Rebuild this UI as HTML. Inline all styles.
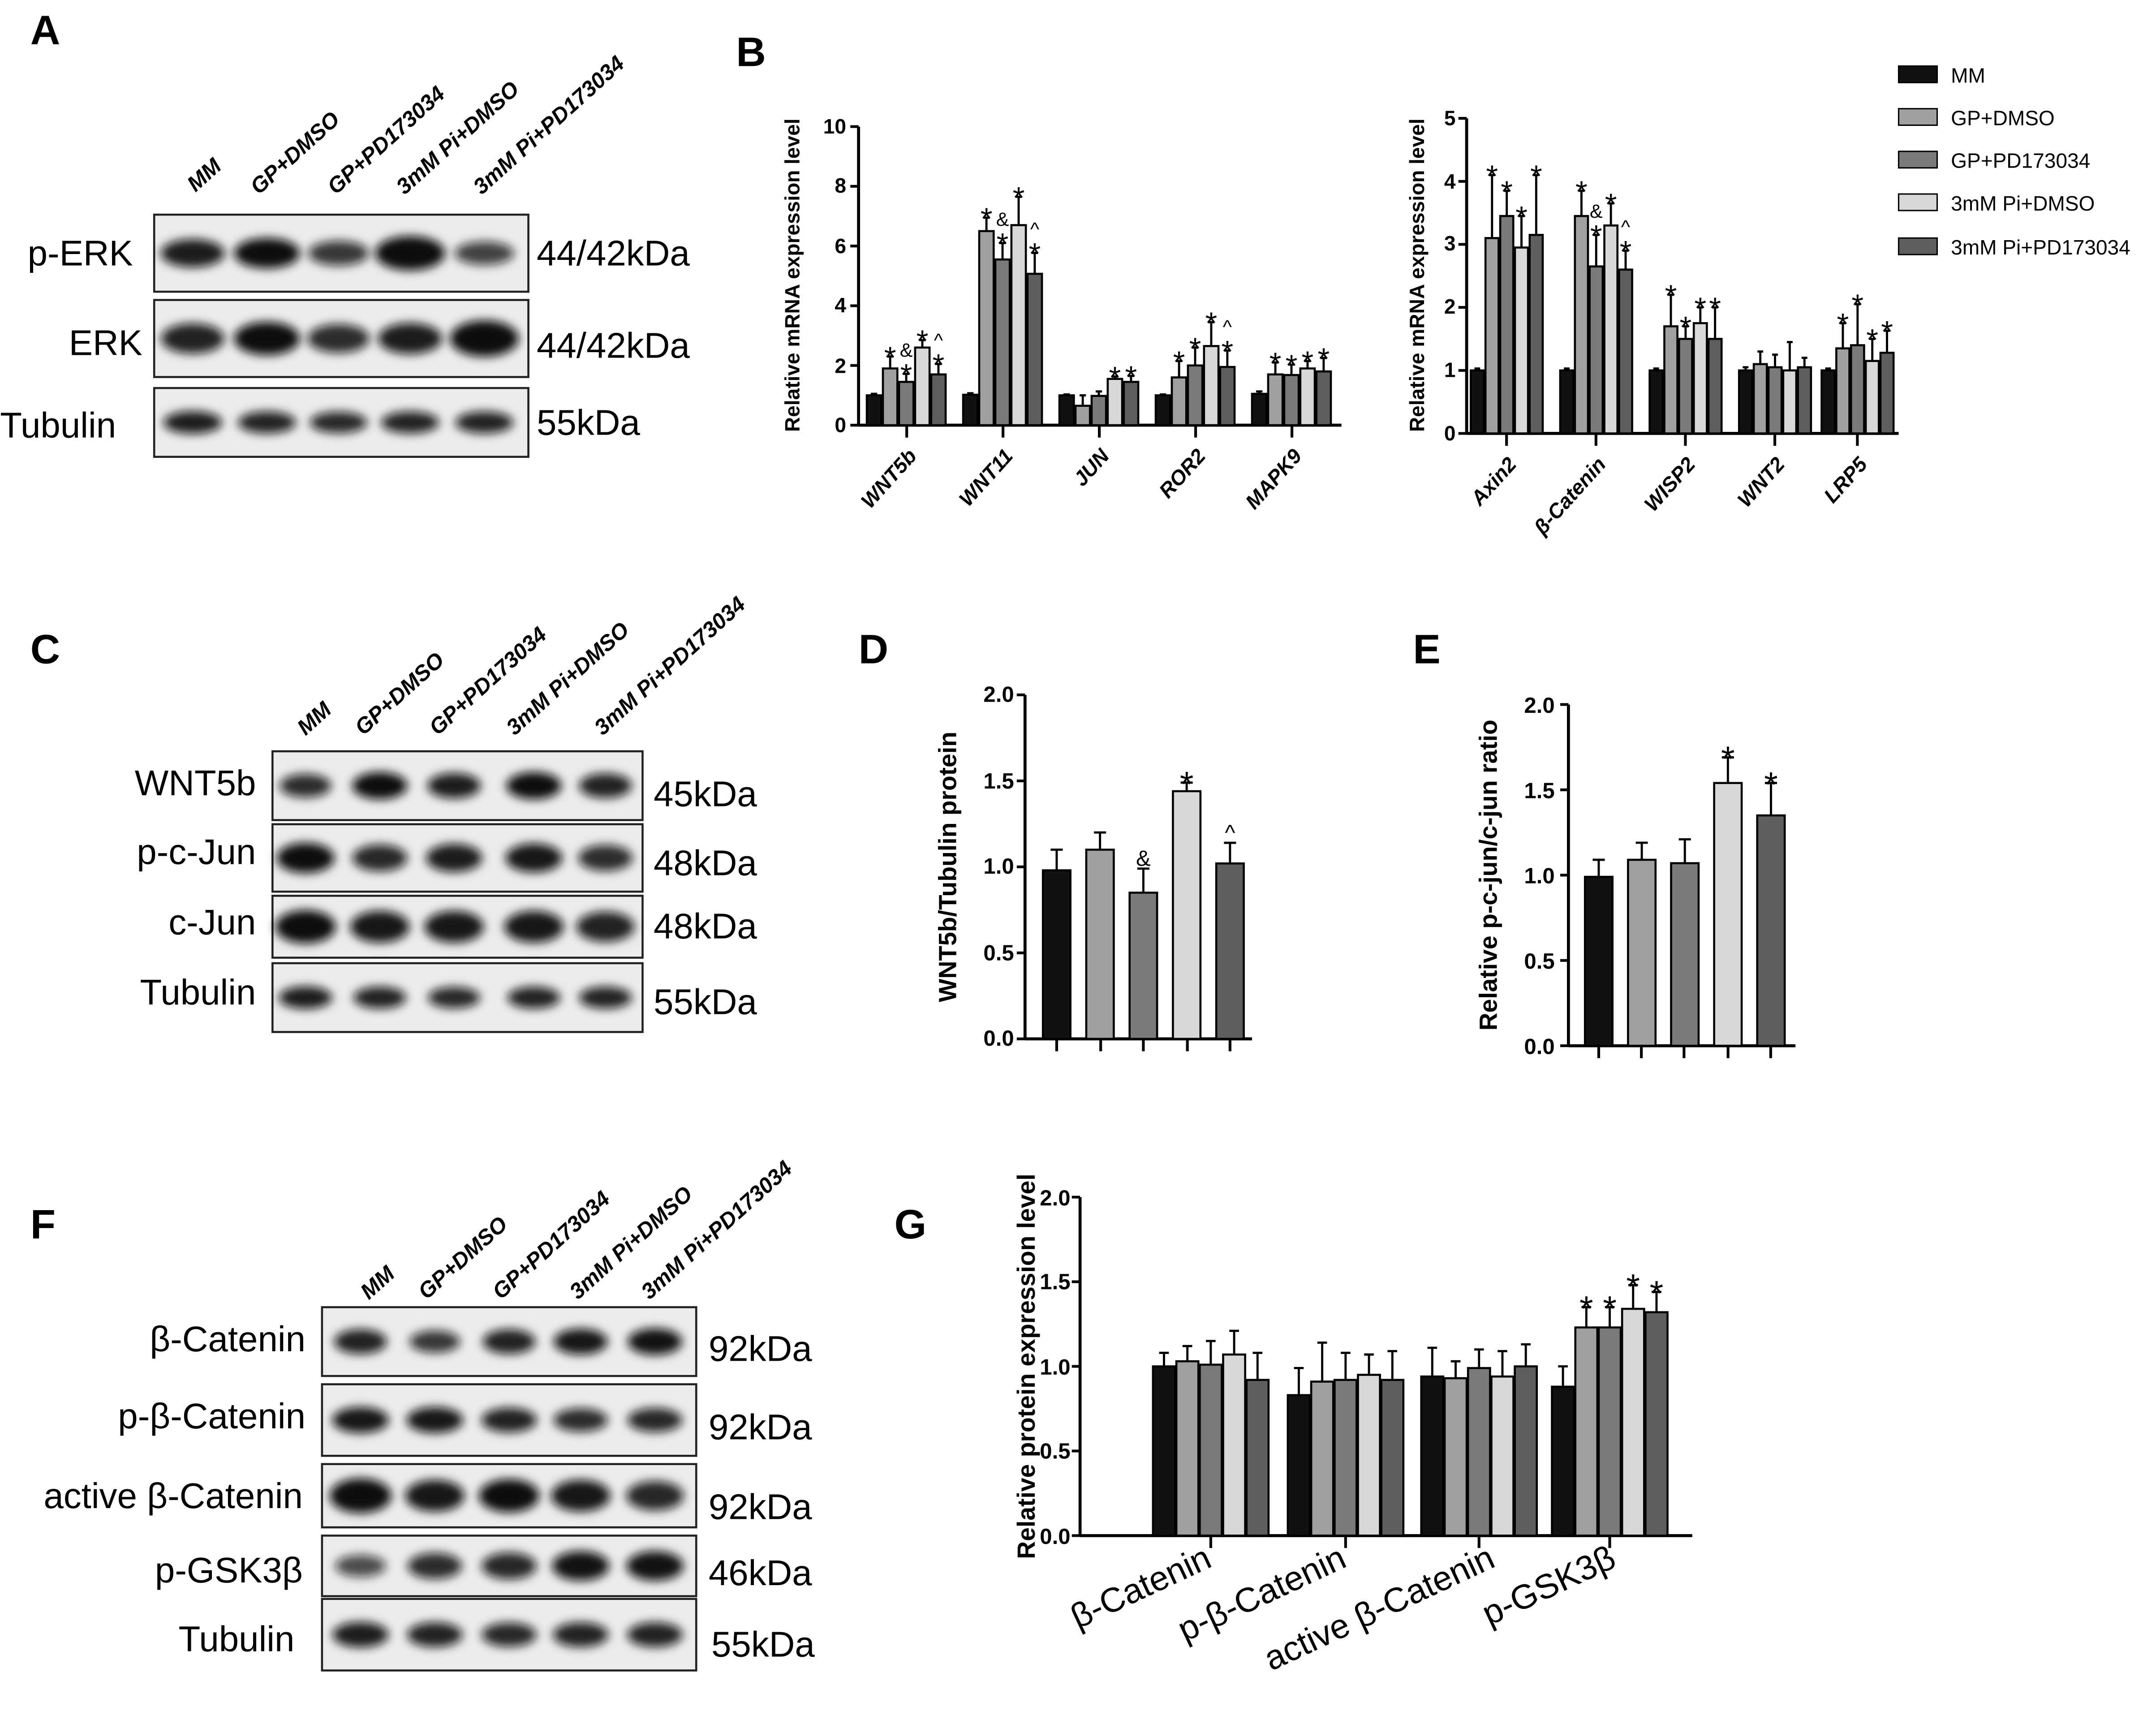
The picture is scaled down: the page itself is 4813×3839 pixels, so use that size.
<!DOCTYPE html>
<html><head><meta charset="utf-8"><style>
html,body{margin:0;padding:0;background:#fff;}
svg{display:block}
text{font-family:"Liberation Sans",sans-serif;}
.pl{font-weight:bold;font-size:30px}
.ln{font-weight:bold;font-size:16px;font-style:italic}
.bl{font-size:26px}
.tk{font-weight:bold;font-size:15px}
.tk2{font-weight:bold;font-size:16px}
.yl{font-weight:bold;font-size:15px}
</style></head><body>
<svg id="s" width="4813" height="3839" viewBox="0 0 1567 1250" xmlns="http://www.w3.org/2000/svg">
<defs><filter id="bf" x="-50%" y="-100%" width="200%" height="300%"><feGaussianBlur stdDeviation="3.5"/></filter></defs>
<rect width="1567" height="1250" fill="#fff"/>
<g id="blots"></g>
<g id="bars"></g>
<text class="pl" x="22" y="32">A</text>
<text class="pl" x="535" y="48">B</text>
<text class="pl" x="22" y="482">C</text>
<text class="pl" x="624" y="482">D</text>
<text class="pl" x="1027" y="482">E</text>
<text class="pl" x="22" y="900">F</text>
<text class="pl" x="650" y="900">G</text>

<g class="ln">
<text transform="translate(142,140) rotate(-42)">MM</text>
<text transform="translate(188,142) rotate(-42)">GP+DMSO</text>
<text transform="translate(244,142) rotate(-42)">GP+PD173034</text>
<text transform="translate(294,142) rotate(-42)">3mM Pi+DMSO</text>
<text transform="translate(350,142) rotate(-42)">3mM Pi+PD173034</text>
</g>
<g class="bl">
<text x="20" y="193">p-ERK</text>
<text x="50" y="258">ERK</text>
<text x="0" y="318">Tubulin</text>
<text x="390" y="193">44/42kDa</text>
<text x="390" y="260">44/42kDa</text>
<text x="390" y="316">55kDa</text>
</g>

<g class="ln">
<text transform="translate(222,535) rotate(-42)">MM</text>
<text transform="translate(264,535) rotate(-42)">GP+DMSO</text>
<text transform="translate(318,535) rotate(-42)">GP+PD173034</text>
<text transform="translate(374,535) rotate(-42)">3mM Pi+DMSO</text>
<text transform="translate(438,535) rotate(-42)">3mM Pi+PD173034</text>
</g>
<g class="bl" text-anchor="end">
<text x="186" y="578">WNT5b</text>
<text x="186" y="628">p-c-Jun</text>
<text x="186" y="679">c-Jun</text>
<text x="186" y="730">Tubulin</text>
</g>
<g class="bl">
<text x="475" y="586">45kDa</text>
<text x="475" y="636">48kDa</text>
<text x="475" y="682">48kDa</text>
<text x="475" y="737">55kDa</text>
</g>

<g class="ln">
<text transform="translate(268,945) rotate(-42)">MM</text>
<text transform="translate(310,945) rotate(-42)">GP+DMSO</text>
<text transform="translate(364,945) rotate(-42)">GP+PD173034</text>
<text transform="translate(420,945) rotate(-42)">3mM Pi+DMSO</text>
<text transform="translate(472,945) rotate(-42)">3mM Pi+PD173034</text>
</g>
<g class="bl" text-anchor="end">
<text x="222" y="982">β-Catenin</text>
<text x="222" y="1038">p-β-Catenin</text>
<text x="220" y="1096">active β-Catenin</text>
<text x="220" y="1150">p-GSK3β</text>
<text x="214" y="1200">Tubulin</text>
</g>
<g class="bl">
<text x="515" y="989">92kDa</text>
<text x="515" y="1046">92kDa</text>
<text x="515" y="1104">92kDa</text>
<text x="515" y="1152">46kDa</text>
<text x="517" y="1204">55kDa</text>
</g>

<g class="tk" text-anchor="end">
<text x="615" y="314">0</text><text x="615" y="271">2</text><text x="615" y="227">4</text>
<text x="615" y="184">6</text><text x="615" y="140">8</text><text x="615" y="97">10</text>
</g>
<text class="yl" transform="translate(581,200) rotate(-90)" text-anchor="middle">Relative mRNA expression level</text>
<g class="tk" font-style="italic" text-anchor="end">
<text transform="translate(667,332) rotate(-48)">WNT5b</text>
<text transform="translate(737,332) rotate(-48)">WNT11</text>
<text transform="translate(807,332) rotate(-48)">JUN</text>
<text transform="translate(877,332) rotate(-48)">ROR2</text>
<text transform="translate(947,332) rotate(-48)">MAPK9</text>
</g>
<g class="tk" text-anchor="end">
<text x="1058" y="320">0</text><text x="1058" y="274">1</text><text x="1058" y="228">2</text>
<text x="1058" y="182">3</text><text x="1058" y="137">4</text><text x="1058" y="91">5</text>
</g>
<text class="yl" transform="translate(1035,200) rotate(-90)" text-anchor="middle">Relative mRNA expression level</text>
<g class="tk" font-style="italic" text-anchor="end">
<text transform="translate(1103,338) rotate(-48)">Axin2</text>
<text transform="translate(1168,338) rotate(-48)">β-Catenin</text>
<text transform="translate(1233,338) rotate(-48)">WISP2</text>
<text transform="translate(1298,338) rotate(-48)">WNT2</text>
<text transform="translate(1358,338) rotate(-48)">LRP5</text>
</g>
<g style="font-size:15px">
<rect x="1380" y="48" width="28" height="12" fill="#111" stroke="#000"/><text x="1418" y="60">MM</text>
<rect x="1380" y="79" width="28" height="12" fill="#a0a0a0" stroke="#000"/><text x="1418" y="91">GP+DMSO</text>
<rect x="1380" y="110" width="28" height="12" fill="#7a7a7a" stroke="#000"/><text x="1418" y="122">GP+PD173034</text>
<rect x="1380" y="141" width="28" height="12" fill="#d8d8d8" stroke="#000"/><text x="1418" y="153">3mM Pi+DMSO</text>
<rect x="1380" y="173" width="28" height="12" fill="#5e5e5e" stroke="#000"/><text x="1418" y="185">3mM Pi+PD173034</text>
</g>
<g class="tk2" text-anchor="end">
<text x="737" y="760">0.0</text><text x="737" y="698">0.5</text><text x="737" y="635">1.0</text>
<text x="737" y="573">1.5</text><text x="737" y="510">2.0</text>
</g>
<text class="yl" style="font-size:18px" transform="translate(695,630) rotate(-90)" text-anchor="middle">WNT5b/Tubulin protein</text>
<g class="tk2" text-anchor="end">
<text x="1130" y="766">0.0</text><text x="1130" y="704">0.5</text><text x="1130" y="642">1.0</text>
<text x="1130" y="580">1.5</text><text x="1130" y="518">2.0</text>
</g>
<text class="yl" style="font-size:18px" transform="translate(1088,636) rotate(-90)" text-anchor="middle">Relative p-c-jun/c-jun ratio</text>
<g class="tk2" text-anchor="end">
<text x="778" y="1122">0.0</text><text x="778" y="1060">0.5</text><text x="778" y="999">1.0</text>
<text x="778" y="937">1.5</text><text x="778" y="876">2.0</text>
</g>
<text class="yl" style="font-size:18px" transform="translate(752,993) rotate(-90)" text-anchor="middle">Relative protein expression level</text>
<g style="font-size:25px" text-anchor="end">
<text transform="translate(882,1138) rotate(-25)">β-Catenin</text>
<text transform="translate(980,1138) rotate(-25)">p-β-Catenin</text>
<text transform="translate(1088,1138) rotate(-25)">active β-Catenin</text>
<text transform="translate(1176,1138) rotate(-25)">p-GSK3β</text>
</g>
<g id="stars"></g>
</svg>
<script>
var NS="http://www.w3.org/2000/svg";
function el(p,t,a,tx){var e=document.createElementNS(NS,t);for(var k in a)e.setAttribute(k,a[k]);if(tx)e.textContent=tx;p.appendChild(e);return e;}
var B=document.getElementById('blots'),G=document.getElementById('bars'),S=document.getElementById('stars');
function blot(x,y,w,h,lanes,bw,bh,ints){
 el(B,'rect',{x:x,y:y,width:w,height:h,fill:'#ececec',stroke:'#222','stroke-width':1.5});
 for(var i=0;i<lanes.length;i++){var it=ints[i];
  el(B,'ellipse',{cx:lanes[i],cy:y+h/2,rx:bw*(0.8+0.2*it),ry:bh*(0.6+0.5*it),fill:'#111','fill-opacity':0.55+0.45*it,filter:'url(#bf)'});}
}
var LA=[140,194,246,298,352];
blot(112,156,272,56,LA,24,10,[.85,1,.6,1.3,.5]);
blot(112,218,272,56,LA,24,11,[.8,1,.7,.85,1.2]);
blot(112,282,272,50,LA,22,8,[.85,.8,.75,.8,.8]);
var LC=[222,276,330,388,440];
blot(198,546,269,50,LC,20,9,[.7,1,.85,1,.8]);
blot(198,599,269,49,LC,21,10,[1,.75,.85,.9,.7]);
blot(198,651,269,45,LC,22,11,[1,.9,.9,.9,.8]);
blot(198,700,269,50,LC,20,8,[.85,.8,.75,.8,.8]);
var LF=[262,316,370,422,476];
blot(234,950,272,50,LF,20,9,[.8,.6,.8,.9,.95]);
blot(234,1006,272,52,LF,21,9,[.9,.9,.8,.7,.75]);
blot(234,1064,272,46,LF,22,11,[1.1,.9,1,.9,.75]);
blot(234,1116,272,44,LF,21,10,[.4,.7,.75,.95,.95]);
blot(234,1162,272,52,LF,21,9,[.85,.8,.75,.8,.8]);

var COL=['#111','#a0a0a0','#7a7a7a','#d8d8d8','#5e5e5e'];
function axis(x0,yb,yt,xe,ticks,groupTicks){
 el(G,'line',{x1:x0,y1:yt,x2:x0,y2:yb,stroke:'#000','stroke-width':2.2});
 el(G,'line',{x1:x0,y1:yb,x2:xe,y2:yb,stroke:'#000','stroke-width':2.2});
 ticks.forEach(function(t){el(G,'line',{x1:x0-6,y1:t,x2:x0,y2:t,stroke:'#000','stroke-width':2});});
 groupTicks.forEach(function(t){el(G,'line',{x1:t,y1:yb,x2:t,y2:yb+9,stroke:'#000','stroke-width':2});});
}
function bars(x0,yb,sc,vals,errs,w,gap,marks,sz){
 for(var i=0;i<vals.length;i++){var x=x0+i*(w+gap),h=vals[i]*sc,top=yb-h,e=errs[i]*sc;
  el(G,'line',{x1:x+w/2,y1:top,x2:x+w/2,y2:top-e,stroke:'#000','stroke-width':1.6});
  el(G,'line',{x1:x+w/2-w*0.22,y1:top-e,x2:x+w/2+w*0.22,y2:top-e,stroke:'#000','stroke-width':1.6});
  el(G,'rect',{x:x,y:top,width:w,height:h,fill:COL[i],stroke:'#000','stroke-width':1.5});
  if(marks&&marks[i]){var m=marks[i].split('');var yy=top-e-2;
   for(var j=m.length-1;j>=0;j--){var isS=m[j]=='*';
    el(S,'text',{x:x+w/2,y:yy+(isS?sz*0.75:0),'text-anchor':'middle',style:'font-size:'+(isS?sz*1.6:sz)+'px'},m[j]);
    yy-=(isS?sz*0.75:sz*0.85);}
  }}
}
axis(624,309,92,975,[309,265.6,222.2,178.8,135.4,92],[659,729,799,869,939]);
var sL=21.7;
var BL=[[1,1.9,1.45,2.6,1.7],[1.02,6.5,5.55,6.7,5.07],[1,.65,.98,1.55,1.45],[1,1.6,2,2.65,1.95],[1.05,1.7,1.68,1.9,1.8]];
var EL=[[.05,.4,.27,.25,.35],[.05,.45,.55,.95,.7],[.03,.35,.15,.08,.2],[.03,.55,.6,.8,.55],[.08,.4,.35,.25,.45]];
var ML=[['','*','&*','*','^*'],['','*','&*','*','^*'],['','','','*','*'],['','*','*','*','^*'],['','*','*','*','*']];
[659,729,799,869,939].forEach(function(c,g){bars(c-29,309,sL,BL[g],EL[g],10.5,1.2,ML[g],14);});
axis(1066,315,86,1380,[315,269.2,223.4,177.6,131.8,86],[1095,1160,1225,1290,1350]);
var sR=45.8;
var BR=[[1,3.1,3.45,2.95,3.15],[1,3.45,2.65,3.3,2.6],[1,1.7,1.5,1.75,1.5],[1,1.1,1.05,1,1.05],[1,1.35,1.4,1.15,1.28]];
var ER=[[.03,1,.4,.5,.95],[.03,.4,.5,.35,.3],[.03,.5,.2,.25,.5],[.05,.2,.2,.45,.15],[.03,.4,.65,.35,.35]];
var MR=[['','*','*','*','*'],['','*','&*','*','^*'],['','*','*','*','*'],['','','','',''],['','*','*','*','*']];
[1095,1160,1225,1290,1350].forEach(function(c,g){bars(c-26,315,sR,BR[g],ER[g],9.5,1.2,MR[g],14);});
axis(745,755,505,910,[755,692.5,630,567.5,505],[768,800,831,863,894]);
bars(758,755,125,[.98,1.1,.85,1.44,1.02],[.12,.1,.14,.05,.12],20,11.5,['','','&','*','^'],16);
axis(1140,760,512,1305,[760,698,636,574,512],[1162,1193,1224,1256,1287]);
bars(1152,760,124,[.99,1.09,1.07,1.54,1.35],[.1,.1,.14,.15,.19],20,11.3,['','','','*','*'],16);
axis(785,1116,870,1230,[1116,1054.5,993,931.5,870],[880,978,1075,1170]);
var VG=[[1,1.03,1.01,1.07,.92],[.83,.91,.92,.95,.92],[.94,.93,.99,.94,1],[.88,1.23,1.23,1.34,1.32]];
var EG=[[.08,.09,.14,.14,.16],[.16,.23,.16,.12,.17],[.17,.1,.11,.15,.13],[.12,.12,.12,.14,.12]];
[880,978,1075,1170].forEach(function(c,g){bars(c-42,1116,123,VG[g],EG[g],16,1,g==3?['','*','*','*','*']:null,16);});
</script>
</body></html>
